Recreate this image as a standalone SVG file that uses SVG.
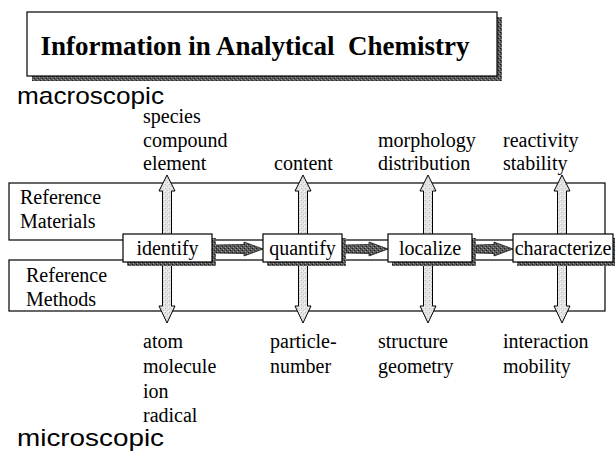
<svg xmlns="http://www.w3.org/2000/svg" width="615" height="452" viewBox="0 0 615 452">
  <defs>
    <!-- speckled dark fill for drop shadows and process arrows -->
    <pattern id="darkSpeck" width="4" height="4" patternUnits="userSpaceOnUse">
      <rect width="4" height="4" fill="#5a5a5a"/>
      <rect x="0" y="0" width="1" height="1" fill="#1e1e1e"/>
      <rect x="2" y="2" width="1" height="1" fill="#1e1e1e"/>
      <rect x="1" y="3" width="1" height="1" fill="#9a9a9a"/>
      <rect x="3" y="1" width="1" height="1" fill="#9a9a9a"/>
    </pattern>
    <!-- light speckled fill for the hollow vertical arrows -->
    <pattern id="lightSpeck" width="4" height="4" patternUnits="userSpaceOnUse">
      <rect width="4" height="4" fill="#e4e4e4"/>
      <rect x="1" y="0" width="1" height="1" fill="#b8b8b8"/>
      <rect x="3" y="2" width="1" height="1" fill="#c4c4c4"/>
      <rect x="0" y="3" width="1" height="1" fill="#f8f8f8"/>
    </pattern>
    <style>
      .serif { font-family: "Liberation Serif", "Times New Roman", serif; font-size: 20px; fill: #000; }
      .sans { font-family: "Liberation Sans", Arial, sans-serif; font-size: 24px; fill: #000; }
      .title { font-family: "Liberation Serif", "Times New Roman", serif; font-size: 27px; font-weight: bold; white-space: pre; }
      .frame { fill: none; stroke: #000; stroke-width: 1.2; }
      .box { fill: #fff; stroke: #000; stroke-width: 1.2; }
      .shadow { fill: url(#darkSpeck); }
      .vArrow { fill: url(#lightSpeck); stroke: #000; stroke-width: 1; }
      .hArrow { fill: url(#darkSpeck); stroke: #1a1a1a; stroke-width: 0.8; }
    </style>
  </defs>

  <!-- title banner -->
  <g id="title">
    <rect class="shadow" x="32" y="17" width="470" height="64"/>
    <rect class="box" x="27" y="12" width="470" height="64"/>
    <text class="title" x="255" y="55" text-anchor="middle">Information in Analytical  Chemistry</text>
  </g>

  <text class="sans" x="17" y="104" textLength="147" lengthAdjust="spacingAndGlyphs">macroscopic</text>
  <text class="sans" x="17" y="446" textLength="147" lengthAdjust="spacingAndGlyphs">microscopic</text>

  <!-- reference frames -->
  <g id="ref-materials">
    <rect class="frame" x="9" y="183" width="596" height="57"/>
    <text class="serif" x="20" y="204">Reference</text>
    <text class="serif" x="20" y="228">Materials</text>
  </g>
  <g id="ref-methods">
    <rect class="frame" x="9" y="260" width="596" height="51"/>
    <text class="serif" x="26" y="282">Reference</text>
    <text class="serif" x="26" y="306">Methods</text>
  </g>

  <!-- connectors: two-way vertical arrows and process arrows -->
  <g id="connectors">
    <path class="vArrow" d="M167 175 L175 191 L171.5 191 L171.5 306 L175 306 L167 323 L159 306 L162.5 306 L162.5 191 L159 191 Z"/>
    <path class="vArrow" d="M303 175 L311 191 L307.5 191 L307.5 306 L311 306 L303 323 L295 306 L298.5 306 L298.5 191 L295 191 Z"/>
    <path class="vArrow" d="M428 175 L436 191 L432.5 191 L432.5 306 L436 306 L428 323 L420 306 L423.5 306 L423.5 191 L420 191 Z"/>
    <path class="vArrow" d="M562 175 L570 191 L566.5 191 L566.5 306 L570 306 L562 323 L554 306 L557.5 306 L557.5 191 L554 191 Z"/>

    <path class="hArrow" d="M216 245 L244 244.5 L244 242 L263 249 L244 256 L244 253.5 L216 253 Z"/>
    <path class="hArrow" d="M346 245 L369 244.5 L369 242 L388 249 L369 256 L369 253.5 L346 253 Z"/>
    <path class="hArrow" d="M476 245 L494 244.5 L494 242 L513 249 L494 256 L494 253.5 L476 253 Z"/>
  </g>

  <!-- process steps -->
  <g id="identify">
    <rect class="shadow" x="127" y="238" width="89" height="28"/>
    <rect class="box" x="123" y="234" width="89" height="28"/>
    <text class="serif" x="167.5" y="255" text-anchor="middle">identify</text>
  </g>
  <g id="quantify">
    <rect class="shadow" x="267" y="238" width="79" height="28"/>
    <rect class="box" x="263" y="234" width="79" height="28"/>
    <text class="serif" x="302.5" y="255" text-anchor="middle">quantify</text>
  </g>
  <g id="localize">
    <rect class="shadow" x="392" y="238" width="84" height="28"/>
    <rect class="box" x="388" y="234" width="84" height="28"/>
    <text class="serif" x="430" y="255" text-anchor="middle">localize</text>
  </g>
  <g id="characterize">
    <rect class="shadow" x="517" y="238" width="100" height="28"/>
    <rect class="box" x="513" y="234" width="100" height="28"/>
    <text class="serif" x="563" y="255" text-anchor="middle">characterize</text>
  </g>

  <!-- macroscopic information -->
  <g id="labels-top">
    <text class="serif" x="143" y="123">species</text>
    <text class="serif" x="143" y="147">compound</text>
    <text class="serif" x="143" y="170">element</text>
    <text class="serif" x="274" y="170">content</text>
    <text class="serif" x="378" y="147">morphology</text>
    <text class="serif" x="378" y="170">distribution</text>
    <text class="serif" x="503" y="147">reactivity</text>
    <text class="serif" x="503" y="170">stability</text>
  </g>

  <!-- microscopic information -->
  <g id="labels-bottom">
    <text class="serif" x="143" y="348">atom</text>
    <text class="serif" x="143" y="373">molecule</text>
    <text class="serif" x="143" y="398">ion</text>
    <text class="serif" x="143" y="422">radical</text>
    <text class="serif" x="270" y="348">particle-</text>
    <text class="serif" x="270" y="373">number</text>
    <text class="serif" x="378" y="348">structure</text>
    <text class="serif" x="378" y="373">geometry</text>
    <text class="serif" x="503" y="348">interaction</text>
    <text class="serif" x="503" y="373">mobility</text>
  </g>
</svg>
